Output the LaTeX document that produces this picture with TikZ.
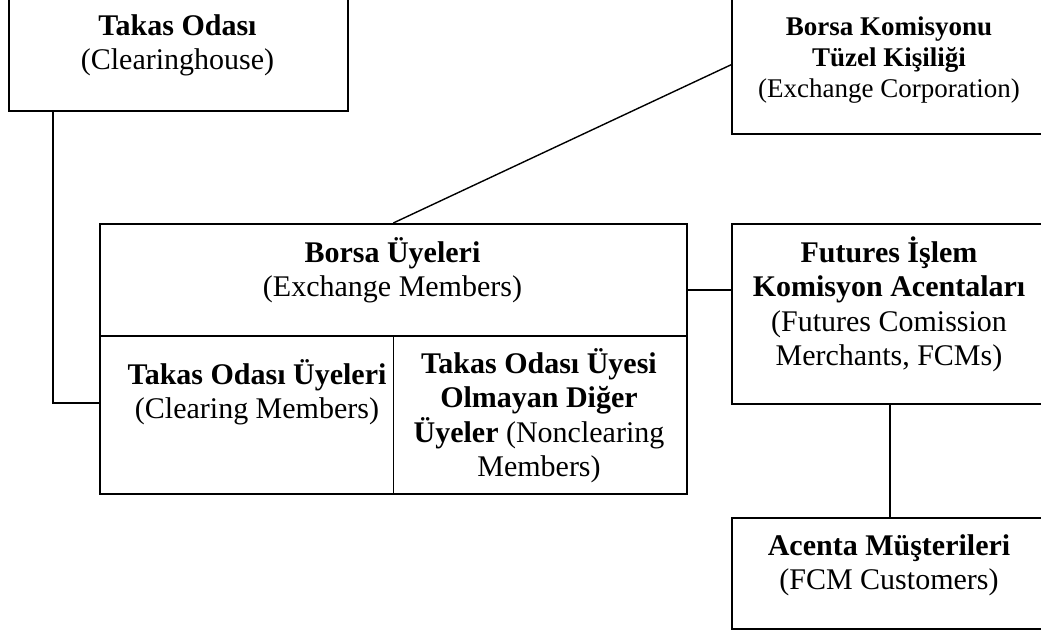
\documentclass[tikz,border=0pt]{standalone}
\usepackage{fontspec}
\setmainfont{Liberation Serif}
\usetikzlibrary{positioning}

\newcommand{\tstrut}{\rule{0pt}{0.9em}}

\tikzset{
  box/.style={draw, line width=1.6pt, rectangle, inner sep=0pt, anchor=north west},
  boxtext/.style={anchor=north, inner sep=0pt, align=center, font=\fontsize{30}{34.5}\selectfont},
  smalltext/.style={boxtext, font=\fontsize{27}{31}\selectfont},
  conn/.style={line width=1.4pt}
}

\begin{document}
\begin{tikzpicture}[x=1pt, y=-1pt]
    \useasboundingbox (0,0) rectangle (1041,634);

    % Boxes
    \node[box, minimum width=339pt, minimum height=130pt] (takas) at (8,-20) {};
    \node[box, minimum width=316pt, minimum height=138pt] (borsakom) at (731,-5) {};
    \node[box, minimum width=587pt, minimum height=270pt] (uyeler) at (99,223) {};
    \node[box, minimum width=316pt, minimum height=180pt] (fcm) at (731,223) {};
    \node[box, minimum width=316pt, minimum height=111pt] (musteri) at (731,517) {};

    % Cells of the members box
    \draw[line width=1.6pt] (uyeler.west |- 0,336) -- (uyeler.east |- 0,336);
    \draw[line width=1.6pt] (uyeler.center |- 0,336) -- (uyeler.south);

    % Texts
    \node[boxtext] (takastext) at (177.5,8) {\tstrut\textbf{Takas Odası}\\(Clearinghouse)};
    \node[smalltext] (komtext) at (889,10.5) {\tstrut\textbf{Borsa Komisyonu}\\\textbf{Tüzel Kişiliği}\\(Exchange Corporation)};
    \node[boxtext] (uyetext) at (392.5,235) {\tstrut\textbf{Borsa Üyeleri}\\(Exchange Members)};
    \node[boxtext] (clrtext) at (257,357) {\tstrut\textbf{Takas Odası Üyeleri}\\(Clearing Members)};
    \node[boxtext] (nonclrtext) at (539,346) {\tstrut\textbf{Takas Odası Üyesi}\\\textbf{Olmayan Diğer}\\\textbf{Üyeler} (Nonclearing\\Members)};
    \node[boxtext] (fcmtext) at (889,235) {\tstrut\textbf{Futures İşlem}\\\textbf{Komisyon Acentaları}\\(Futures Comission\\Merchants, FCMs)};
    \node[boxtext] (mustext) at (889,528) {\tstrut\textbf{Acenta Müşterileri}\\(FCM Customers)};

    % Connectors
    \draw[conn] ([xshift=45pt]takas.south west) |- (uyeler.west |- 0,403);
    \draw[conn] (uyeler.north) -- (borsakom.west);
    \draw[conn] (uyeler.east |- 0,290) -- (fcm.west |- 0,290);
    \draw[conn] (fcm.south) -- (musteri.north);
\end{tikzpicture}
\end{document}
